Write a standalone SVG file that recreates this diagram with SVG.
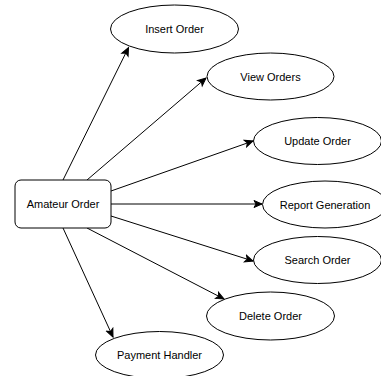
<svg xmlns="http://www.w3.org/2000/svg" width="381" height="376" viewBox="0 0 381 376">
<style>
.n{fill:#fff;stroke:#000;stroke-width:1}
.t{font-family:"Liberation Sans",Arial,sans-serif;font-size:11px;fill:#000;text-anchor:middle;dominant-baseline:central}
.e{fill:none;stroke:#000;stroke-width:1;marker-end:url(#a)}
</style>
<defs>
<marker id="a" markerUnits="userSpaceOnUse" markerWidth="10" markerHeight="10" viewBox="0 0 10 10" refX="9" refY="5" orient="auto">
<path d="M1,1.5 L9,5 L1,8.5 L3,5 z" fill="#000" stroke="#000" stroke-width="1"/>
</marker>
</defs>
<rect width="381" height="376" fill="#fff"/>
<g id="connectors">
<line class="e" x1="63" y1="180" x2="128.5" y2="47.5"/>
<line class="e" x1="87" y1="180" x2="206" y2="78"/>
<line class="e" x1="111" y1="191" x2="253" y2="141"/>
<line class="e" x1="111" y1="204" x2="262" y2="204"/>
<line class="e" x1="111" y1="216" x2="253" y2="261"/>
<line class="e" x1="87" y1="228" x2="224" y2="299"/>
<line class="e" x1="63" y1="228" x2="113" y2="337"/>
</g>
<g id="amateur-order">
<rect class="n" x="15" y="180" width="96" height="48" rx="6" ry="6"/>
<text class="t" x="63" y="204">Amateur Order</text>
</g>
<g id="insert-order">
<ellipse class="n" cx="174.5" cy="29" rx="64" ry="24"/>
<text class="t" x="174.5" y="29">Insert Order</text>
</g>
<g id="view-orders">
<ellipse class="n" cx="270.5" cy="76.5" rx="63.5" ry="23.5"/>
<text class="t" x="270.5" y="76.5">View Orders</text>
</g>
<g id="update-order">
<ellipse class="n" cx="317.5" cy="141" rx="64" ry="23.5"/>
<text class="t" x="317.5" y="141">Update Order</text>
</g>
<g id="report-generation">
<ellipse class="n" cx="325" cy="204.5" rx="62.5" ry="23.5"/>
<text class="t" x="325" y="204.5">Report Generation</text>
</g>
<g id="search-order">
<ellipse class="n" cx="317.5" cy="260" rx="64" ry="23.5"/>
<text class="t" x="317.5" y="260">Search Order</text>
</g>
<g id="delete-order">
<ellipse class="n" cx="270.5" cy="316" rx="64" ry="24"/>
<text class="t" x="270.5" y="316">Delete Order</text>
</g>
<g id="payment-handler">
<ellipse class="n" cx="159.5" cy="355" rx="64" ry="23.5"/>
<text class="t" x="159.5" y="355">Payment Handler</text>
</g>
</svg>
